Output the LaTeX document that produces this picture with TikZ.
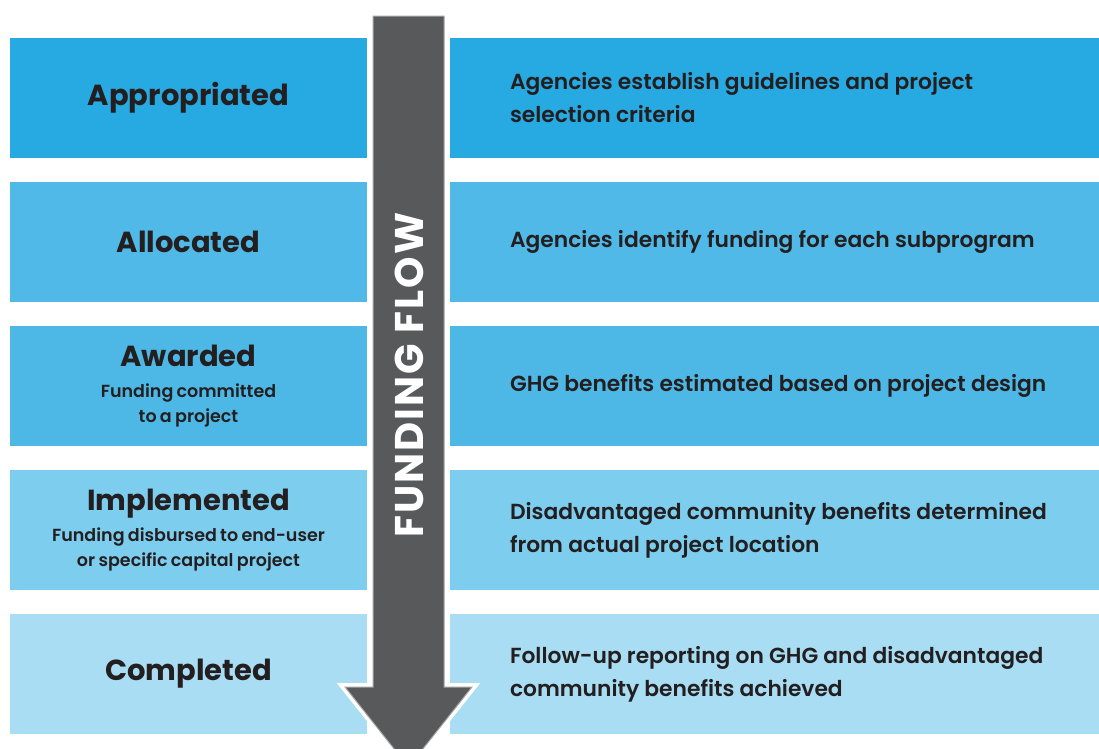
\documentclass[tikz,border=0pt]{standalone}
\usepackage{fontspec}
\setmainfont{Poppins}
\newfontfamily\medfont{Poppins SemiBold}
\newfontfamily\flowfont{Poppins Bold}[LetterSpace=5]
\usepackage{tikz}
\definecolor{ink}{RGB}{35,31,32}
\definecolor{shaft}{RGB}{88,89,91}
\definecolor{rowA}{RGB}{39,169,225}
\definecolor{rowB}{RGB}{80,185,231}
\definecolor{rowC}{RGB}{77,184,230}
\definecolor{rowD}{RGB}{125,205,239}
\definecolor{rowE}{RGB}{169,221,243}
\newcommand{\stagename}[1]{{\bfseries\fontsize{29}{36}\selectfont #1\par}}
\newcommand{\stagenote}[1]{{\vspace{6pt}\medfont\fontsize{17.5}{25}\selectfont #1\par}}
\tikzset{
    stage/.style={rectangle, minimum width=357pt, minimum height=120pt,
        inner sep=0pt, text width=357pt, align=center, text=ink},
    band/.style={rectangle, minimum width=649pt, minimum height=120pt, inner sep=0pt},
    info/.style={anchor=west, inner sep=0pt, align=left, text=ink,
        font=\medfont\fontsize{21.8}{33}\selectfont}
}

\begin{document}
\begin{tikzpicture}[x=1pt, y=-1pt]
\clip (0,0) rectangle (1099,748);
\fill[white] (0,0) rectangle (1099,748);
% the five stages
\node[stage, fill=rowA] (appr) at (188.5,98) {\stagename{Appropriated}};
\node[band, fill=rowA] (apprband) at (774.5,98) {};
\node[info] (apprtext) at ([xshift=60pt]apprband.west) {Agencies establish guidelines and project\\selection criteria};
\node[stage, fill=rowB] (alloc) at (188.5,242) {\stagename{Allocated}};
\node[band, fill=rowB] (allocband) at (774.5,242) {};
\node[info] (alloctext) at ([xshift=60pt]allocband.west) {Agencies identify funding for each subprogram};
\node[stage, fill=rowC] (award) at (188.5,386) {\stagename{Awarded}\stagenote{Funding committed\\to a project}};
\node[band, fill=rowC] (awardband) at (774.5,386) {};
\node[info] (awardtext) at ([xshift=60pt]awardband.west) {GHG benefits estimated based on project design};
\node[stage, fill=rowD] (impl) at (188.5,530) {\stagename{Implemented}\stagenote{Funding disbursed to end-user\\or specific capital project}};
\node[band, fill=rowD] (implband) at (774.5,530) {};
\node[info] (impltext) at ([xshift=60pt]implband.west) {Disadvantaged community benefits determined\\from actual project location};
\node[stage, fill=rowE] (compl) at (188.5,674) {\stagename{Completed}};
\node[band, fill=rowE] (complband) at (774.5,674) {};
\node[info] (compltext) at ([xshift=60pt]complband.west) {Follow-up reporting on GHG and disadvantaged\\community benefits achieved};
% big arrow down the middle
\draw[white, line width=8pt, line join=miter]
  (373,16) -- (444,16) -- (444,687) -- (472,687) -- (408.5,767) -- (345,687) -- (373,687) -- cycle;
\draw[fill=shaft, draw=black!35, line width=1pt]
  (373,16) -- (444,16) -- (444,687) -- (472,687) -- (408.5,767) -- (345,687) -- (373,687) -- cycle;
\node[rotate=90, text=white, font=\flowfont\fontsize{40}{40}\selectfont] (flow) at (409,375) {FUNDING FLOW};
\end{tikzpicture}
\end{document}
